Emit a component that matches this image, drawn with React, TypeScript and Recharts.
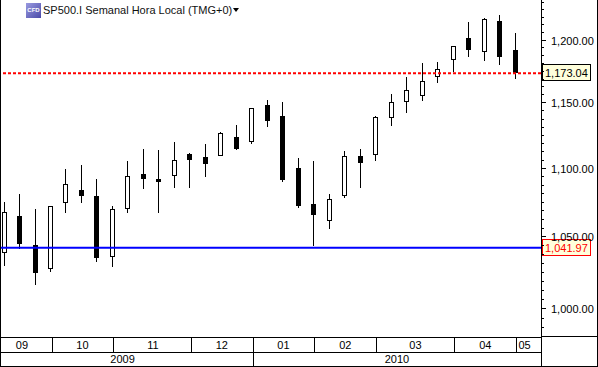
import { Bar, ComposedChart, ReferenceLine, XAxis, YAxis } from 'recharts'

// weekly SP500.I candles, Sep 2009 .. May 2010
const opens = [
  1038.0, 1064.6, 1043.7, 1026.8, 1073.9, 1083.6, 1079.2, 1035.2, 1069.5, 1095.7, 1091.7, 1093.7,
  1110.2, 1108.2, 1108.7, 1123.3, 1119.7, 1148.0, 1139.4, 1099.9, 1073.4, 1060.8, 1079.4, 1108.9,
  1109.4, 1137.6, 1150.1, 1154.7, 1169.7, 1183.3, 1201.4, 1190.3, 1215.3, 1191.6,
]
const highs = [
  1074.8, 1080.7, 1069.5, 1071.9, 1099.2, 1102.1, 1091.7, 1071.9, 1105.1, 1114.2, 1113.4, 1119.3,
  1111.2, 1118.2, 1127.1, 1132.5, 1145.4, 1151.9, 1150.3, 1107.6, 1105.1, 1080.7, 1112.7, 1114.2,
  1139.7, 1156.6, 1169.7, 1180.9, 1181.7, 1194.6, 1214.5, 1217.8, 1220.3, 1205.5,
]
const lows = [
  1029.1, 1041.0, 1016.1, 1025.1, 1066.6, 1073.9, 1032.1, 1028.6, 1067.0, 1084.6, 1067.0, 1085.3,
  1085.3, 1093.4, 1108.7, 1113.6, 1118.2, 1131.2, 1089.7, 1070.7, 1043.4, 1055.5, 1077.5, 1085.3,
  1104.9, 1131.9, 1141.4, 1151.3, 1165.6, 1173.6, 1186.2, 1183.0, 1179.8, 1168.6,
]
const closes = [
  1067.5, 1044.4, 1024.4, 1071.9, 1088.0, 1079.4, 1034.9, 1069.5, 1093.7, 1091.9, 1089.7, 1105.7,
  1106.1, 1103.1, 1126.3, 1114.4, 1145.4, 1135.8, 1091.0, 1071.9, 1065.6, 1077.0, 1108.9, 1103.9,
  1138.7, 1150.3, 1159.5, 1166.6, 1176.1, 1194.6, 1191.9, 1216.7, 1186.2, 1173.04,
]

// x axis bands (positions in week index units)
const monthLabels = ['09', '10', '11', '12', '01', '02', '03', '04', '05']
const monthLabelPos = [1.14, 5.05, 9.6, 14.05, 18.03, 22.02, 26.55, 31.06, 33.6]
const monthBreaks = [3.05, 7.05, 12.05, 16.03, 20.02, 24.02, 29.06, 33.06]
const yearLabels = ['2009', '2010']
const yearLabelPos = [7.64, 25.36]
const yearBreaks = [16.03]

const majorTicks = [1000, 1050, 1100, 1150, 1200]
const minorStep = 6.25
const minorStart = 981.25
const minorCount = 41

const xDomain: [number, number] = [-0.213, 34.66]
const yDomain: [number, number] = [980.7, 1232.8]

const lastPrice = 1173.04
const supportLevel = 1041.97

const FONT = '"Liberation Sans", Arial, sans-serif'

const candles = opens.map((o, i) => ({
  i,
  wick: [lows[i], highs[i]],
  body: [Math.min(o, closes[i]), Math.max(o, closes[i])],
  up: closes[i] >= o,
}))

const yTicks = Array.from({ length: minorCount }, (_, k) => minorStart + k * minorStep)

const fmt = (v: number) =>
  v.toLocaleString('en-US', { minimumFractionDigits: 2, maximumFractionDigits: 2 })

function Wick(props: any) {
  const { x, y, width, height } = props
  const cx = Math.floor(x + width / 2) + 0.5
  return <line x1={cx} x2={cx} y1={Math.round(y)} y2={Math.round(y + height)} stroke="#000" strokeWidth={1} />
}

function Body(props: any) {
  const { x, y, width, height } = props
  const up = props.payload?.up ?? props.up
  const cx = Math.floor(x + width / 2) + 0.5
  const top = Math.round(y) + 0.5
  const h = Math.max(Math.round(y + height) - Math.round(y) - 1, 1)
  return (
    <rect x={cx - 2} y={top} width={4} height={h} fill={up ? '#fff' : '#000'} stroke="#000" strokeWidth={1} />
  )
}

function PriceTick(props: any) {
  const { x, y, payload } = props
  const v = payload.value as number
  const major = majorTicks.includes(v)
  const ly = Math.round(y) + 0.5
  return (
    <g>
      <line x1={x} x2={x + (major ? 5 : 3)} y1={ly} y2={ly} stroke="#000" strokeWidth={1} />
      {major && (
        <text x={x + 10} y={y + 5} fontSize={11} fontFamily={FONT} fill="#000">
          {fmt(v)}
        </text>
      )}
    </g>
  )
}

function BandTick(props: any) {
  const { x, y, payload, labels, positions, rowHeight } = props
  const v = payload.value as number
  const k = positions.indexOf(v)
  if (k < 0) {
    const lx = Math.round(x) + 0.5
    return <line x1={lx} x2={lx} y1={y} y2={y + rowHeight} stroke="#000" strokeWidth={1} />
  }
  return (
    <text x={x} y={y + rowHeight / 2 + 4} textAnchor="middle" fontSize={11} fontFamily={FONT} fill="#000">
      {labels[k]}
    </text>
  )
}

function PriceTag(props: any) {
  const { viewBox, value, border, color } = props
  if (!viewBox) return null
  const left = viewBox.x + viewBox.width + 1.5
  const cy = Math.round(viewBox.y)
  return (
    <g>
      <rect x={left} y={cy - 8.5} width={48} height={16} fill="#ffffdc" stroke={border} strokeWidth={1} />
      <text x={left + 2.5} y={cy + 4} fontSize={11} fontFamily={FONT} fill={color}>
        {fmt(value)}
      </text>
    </g>
  )
}

const monthTicks = [...monthBreaks, xDomain[1], ...monthLabelPos].sort((a, b) => a - b)
const yearTicks = [...yearBreaks, xDomain[1], ...yearLabelPos].sort((a, b) => a - b)

export default function App() {
  return (
    <div
      style={{
        position: 'absolute',
        left: 0,
        top: 0,
        width: 598,
        height: 367,
        boxSizing: 'border-box',
        borderLeft: '1px solid #000',
        borderRight: '1px solid #000',
        borderBottom: '1px solid #000',
        background: '#fff',
        fontFamily: FONT,
      }}
    >
      <ComposedChart width={596} height={366} data={candles} margin={{ top: 0, right: 0, bottom: 0, left: 0 }}>
        <XAxis
          xAxisId="m"
          type="number"
          dataKey="i"
          domain={xDomain}
          allowDataOverflow
          ticks={monthTicks}
          interval={0}
          tick={<BandTick labels={monthLabels} positions={monthLabelPos} rowHeight={15} />}
          tickLine={false}
          tickSize={0}
          tickMargin={0}
          height={15}
          axisLine={{ stroke: '#000', shapeRendering: 'crispEdges' }}
        />
        <XAxis
          xAxisId="y"
          type="number"
          dataKey="i"
          domain={xDomain}
          allowDataOverflow
          ticks={yearTicks}
          interval={0}
          tick={<BandTick labels={yearLabels} positions={yearLabelPos} rowHeight={14} />}
          tickLine={false}
          tickSize={0}
          tickMargin={0}
          height={14}
          axisLine={{ stroke: '#000', shapeRendering: 'crispEdges' }}
        />
        <XAxis xAxisId={0} type="number" dataKey="i" domain={xDomain} allowDataOverflow hide orientation="top" height={0} />
        <XAxis xAxisId="b" type="number" dataKey="i" domain={xDomain} allowDataOverflow hide orientation="top" height={0} />
        <YAxis
          orientation="right"
          width={56}
          scale="log"
          domain={yDomain}
          allowDataOverflow
          ticks={yTicks}
          interval={0}
          tick={<PriceTick />}
          tickLine={false}
          tickSize={0}
          tickMargin={0}
          axisLine={{ stroke: '#000', shapeRendering: 'crispEdges' }}
        />
        <Bar dataKey="wick" xAxisId={0} barSize={1} shape={<Wick />} isAnimationActive={false} />
        <Bar dataKey="body" xAxisId="b" barSize={5} shape={<Body />} isAnimationActive={false} />
        <ReferenceLine
          y={supportLevel}
          stroke="#0000ff"
          strokeWidth={2}
          label={(p: any) => <PriceTag viewBox={p.viewBox} value={supportLevel} border="#ff0000" color="#ff0000" />}
        />
        <ReferenceLine
          y={lastPrice}
          stroke="#ff0000"
          strokeWidth={2}
          strokeDasharray="3 2"
          label={(p: any) => <PriceTag viewBox={p.viewBox} value={lastPrice} border="#000" color="#000" />}
        />
      </ComposedChart>
      <div
        style={{
          position: 'absolute',
          left: 540,
          top: 336,
          width: 56,
          height: 0,
          borderTop: '1px solid #000',
        }}
      />
      <div
        style={{
          position: 'absolute',
          left: 25,
          top: 3,
          width: 15,
          height: 15,
          background: 'linear-gradient(135deg, #9a9ae0, #4a4aa8)',
          color: '#fff',
          fontSize: 6,
          fontWeight: 700,
          lineHeight: '15px',
          textAlign: 'center',
          fontFamily: FONT,
        }}
      >
        CFD
      </div>
      <div
        style={{
          position: 'absolute',
          left: 42,
          top: 4,
          fontSize: 11,
          lineHeight: '13px',
          color: '#111',
          whiteSpace: 'nowrap',
        }}
      >
        SP500.I Semanal Hora Local (TMG+0)
        <svg width={6} height={4} style={{ marginLeft: 1, verticalAlign: 'top', marginTop: 4 }}>
          <path d="M0 0 L6 0 L3 4 Z" fill="#000" />
        </svg>
      </div>
    </div>
  )
}
